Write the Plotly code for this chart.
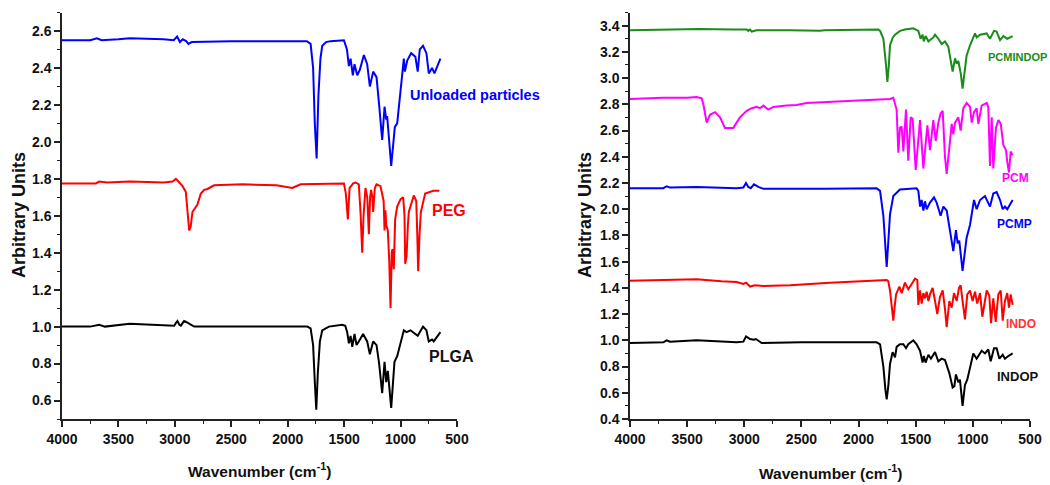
import plotly.graph_objects as go

# ---------------- Left panel data ----------------
unloaded_wn = [4000, 3750, 3690, 3650, 3500, 3400, 3100, 3010, 2980, 2955,
               2930, 2900, 2880, 2850, 2500, 2000, 1830, 1797, 1775, 1760,
               1744, 1728, 1710, 1694, 1660, 1620, 1502, 1475, 1458, 1443,
               1423, 1408, 1384, 1361, 1325, 1296, 1272, 1243, 1213, 1190,
               1163, 1142, 1127, 1119, 1083, 1051, 1030, 971, 962, 941,
               906, 869, 848, 830, 801, 771, 750, 721, 700, 647]
unloaded_val = [2.55, 2.55, 2.56, 2.55, 2.555, 2.56, 2.555, 2.55, 2.57, 2.54,
                2.555, 2.545, 2.53, 2.54, 2.545, 2.545, 2.545, 2.53, 2.40, 2.10,
                1.91, 2.25, 2.45, 2.52, 2.54, 2.545, 2.55, 2.50, 2.41, 2.45,
                2.36, 2.42, 2.36, 2.39, 2.47, 2.42, 2.30, 2.38, 2.35, 2.20,
                2.01, 2.19, 2.12, 2.14, 1.87, 2.08, 2.10, 2.45, 2.38, 2.44,
                2.48, 2.46, 2.38, 2.50, 2.52, 2.48, 2.37, 2.40, 2.37, 2.45]

peg_wn = [4000, 3700, 3670, 3600, 3400, 3100, 3020, 2991, 2960, 2932,
          2903, 2885, 2873, 2860, 2844, 2800, 2770, 2740, 2711, 2652,
          2400, 2100, 1959, 1886, 1600, 1502, 1485, 1467, 1452, 1420,
          1399, 1370, 1355, 1340, 1328, 1311, 1295, 1281, 1270, 1261,
          1250, 1243, 1228, 1213, 1178, 1160, 1150, 1142, 1134, 1127,
          1113, 1100, 1089, 1078, 1071, 1060, 1048, 1030, 1000, 977,
          965, 959, 947, 935, 927, 883, 861, 852, 844, 832,
          820, 782, 709, 656]
peg_val = [1.775, 1.775, 1.785, 1.78, 1.785, 1.78, 1.785, 1.80, 1.78, 1.76,
           1.73, 1.60, 1.52, 1.54, 1.62, 1.66, 1.72, 1.74, 1.745, 1.765,
           1.77, 1.765, 1.75, 1.77, 1.775, 1.775, 1.72, 1.58, 1.75, 1.775,
           1.78, 1.77, 1.62, 1.40, 1.60, 1.75, 1.70, 1.50, 1.70, 1.74,
           1.70, 1.62, 1.75, 1.77, 1.76, 1.70, 1.68, 1.52, 1.63, 1.55,
           1.52, 1.35, 1.10, 1.40, 1.42, 1.31, 1.58, 1.65, 1.69, 1.70,
           1.60, 1.34, 1.38, 1.55, 1.62, 1.71, 1.68, 1.50, 1.30, 1.50,
           1.62, 1.72, 1.735, 1.735]

plga_wn = [4000, 3750, 3670, 3620, 3400, 3100, 3006, 2990, 2977, 2960,
           2947, 2930, 2918, 2900, 2888, 2829, 2500, 2000, 1827, 1797,
           1775, 1760, 1747, 1733, 1715, 1694, 1635, 1517, 1490, 1473,
           1458, 1443, 1428, 1408, 1390, 1370, 1332, 1296, 1272, 1243,
           1213, 1190, 1163, 1142, 1127, 1113, 1083, 1054, 1030, 971,
           947, 912, 869, 848, 801, 771, 750, 721, 706, 647]
plga_val = [1.0, 1.0, 1.01, 1.0, 1.015, 1.005, 1.005, 1.02, 1.03, 1.01,
            1.005, 1.02, 1.03, 1.025, 1.02, 1.0, 1.0, 1.0, 1.0, 0.99,
            0.90, 0.70, 0.55, 0.75, 0.92, 0.98, 1.0, 1.01, 1.005, 0.97,
            0.91, 0.95, 0.89, 0.96, 0.90, 0.92, 0.96, 0.92, 0.85, 0.92,
            0.90, 0.80, 0.64, 0.81, 0.70, 0.76, 0.56, 0.81, 0.84, 0.98,
            0.97, 0.98, 0.96, 0.95, 1.0, 0.98, 0.92, 0.93, 0.92, 0.97]

# ---------------- Right panel data ----------------
pcmindop_wn = [4000, 3700, 3400, 3100, 2990, 2979, 2965, 2950, 2935, 2892,
               2600, 2337, 2300, 1900, 1827, 1812, 1783, 1760, 1748, 1735,
               1725, 1700, 1681, 1637, 1594, 1521, 1477, 1457, 1440, 1429,
               1414, 1389, 1346, 1331, 1302, 1273, 1244, 1215, 1177, 1156,
               1142, 1127, 1105, 1090, 1075, 1055, 1025, 981, 967, 937,
               879, 850, 815, 792, 762, 733, 699, 652]
pcmindop_val = [3.365, 3.37, 3.375, 3.37, 3.37, 3.37, 3.36, 3.37, 3.355, 3.365,
                3.365, 3.36, 3.365, 3.37, 3.37, 3.36, 3.30, 3.10, 2.97, 3.10,
                3.25, 3.31, 3.33, 3.36, 3.37, 3.38, 3.36, 3.30, 3.33, 3.28,
                3.32, 3.28, 3.31, 3.33, 3.30, 3.26, 3.28, 3.24, 3.05, 3.15,
                3.11, 3.13, 3.03, 2.92, 3.05, 3.17, 3.25, 3.34, 3.31, 3.33,
                3.34, 3.30, 3.36, 3.355, 3.29, 3.32, 3.30, 3.32]

pcm_wn = [4000, 3708, 3500, 3417, 3373, 3358, 3329, 3300, 3256, 3212,
          3169, 3125, 3096, 3038, 2979, 2935, 2892, 2863, 2833, 2790,
          2746, 2629, 2542, 2454, 2250, 1958, 1725, 1696, 1667, 1652,
          1638, 1623, 1608, 1585, 1565, 1544, 1527, 1500, 1462, 1433,
          1398, 1375, 1346, 1325, 1302, 1282, 1264, 1244, 1229, 1206,
          1185, 1171, 1156, 1127, 1107, 1083, 1054, 1025, 1010, 990,
          967, 952, 923, 879, 865, 850, 835, 821, 798, 777,
          756, 733, 710, 699, 684, 669, 652]
pcm_val = [2.84, 2.85, 2.85, 2.855, 2.845, 2.80, 2.66, 2.72, 2.74, 2.70,
           2.62, 2.62, 2.62, 2.70, 2.75, 2.77, 2.78, 2.77, 2.79, 2.76,
           2.78, 2.79, 2.795, 2.81, 2.82, 2.83, 2.84, 2.85, 2.76, 2.43,
           2.62, 2.63, 2.44, 2.76, 2.37, 2.70, 2.69, 2.30, 2.68, 2.31,
           2.64, 2.45, 2.68, 2.52, 2.66, 2.73, 2.75, 2.40, 2.27, 2.50,
           2.65, 2.57, 2.66, 2.70, 2.60, 2.77, 2.81, 2.78, 2.66, 2.74,
           2.77, 2.65, 2.79, 2.81, 2.78, 2.33, 2.70, 2.31, 2.62, 2.68,
           2.65, 2.49, 2.45, 2.36, 2.28, 2.44, 2.41]

pcmp_wn = [4000, 3708, 3679, 3650, 3417, 3067, 3008, 2985, 2965, 2944,
           2915, 2877, 2833, 2367, 2337, 2300, 1842, 1812, 1783, 1765,
           1754, 1740, 1725, 1696, 1638, 1492, 1477, 1462, 1448, 1433,
           1419, 1404, 1375, 1340, 1317, 1282, 1258, 1229, 1200, 1171,
           1148, 1133, 1119, 1090, 1055, 1025, 990, 967, 937, 894,
           850, 821, 792, 762, 739, 719, 699, 652]
pcmp_val = [2.16, 2.16, 2.175, 2.165, 2.17, 2.16, 2.165, 2.20, 2.17, 2.16,
            2.19, 2.17, 2.155, 2.155, 2.15, 2.155, 2.16, 2.14, 1.95, 1.70,
            1.56, 1.75, 1.96, 2.10, 2.15, 2.16, 2.14, 2.02, 2.07, 1.99,
            2.06, 2.00, 2.05, 2.09, 2.05, 1.95, 2.02, 1.99, 1.85, 1.68,
            1.84, 1.74, 1.76, 1.53, 1.78, 1.88, 2.07, 2.00, 2.07, 2.10,
            2.02, 2.12, 2.13, 2.07, 2.00, 2.02, 2.00, 2.07]

indo_wn = [4000, 3700, 3417, 3200, 3067, 3008, 2985, 2950, 2906, 2833,
           2600, 2250, 1900, 1754, 1740, 1725, 1710, 1696, 1685, 1672,
           1643, 1623, 1594, 1565, 1535, 1506, 1486, 1477, 1462, 1448,
           1433, 1419, 1404, 1389, 1375, 1352, 1331, 1311, 1288, 1264,
           1244, 1229, 1206, 1185, 1165, 1142, 1121, 1107, 1090, 1069,
           1049, 1025, 1002, 981, 962, 937, 917, 902, 879, 856,
           841, 821, 800, 777, 756, 739, 719, 699, 684, 669,
           652]
indo_val = [1.455, 1.46, 1.465, 1.45, 1.445, 1.43, 1.44, 1.41, 1.42, 1.415,
            1.42, 1.44, 1.455, 1.46, 1.45, 1.38, 1.26, 1.15, 1.25, 1.35,
            1.41, 1.36, 1.44, 1.39, 1.43, 1.47, 1.46, 1.27, 1.38, 1.28,
            1.36, 1.32, 1.37, 1.30, 1.35, 1.40, 1.30, 1.20, 1.33, 1.38,
            1.24, 1.10, 1.30, 1.25, 1.36, 1.30, 1.40, 1.42, 1.30, 1.16,
            1.35, 1.38, 1.30, 1.37, 1.28, 1.36, 1.18, 1.25, 1.38, 1.34,
            1.13, 1.32, 1.14, 1.35, 1.38, 1.15, 1.30, 1.36, 1.25, 1.35,
            1.27]

indop_wn = [4000, 3708, 3679, 3650, 3417, 3067, 3008, 2985, 2950, 2915,
            2898, 2848, 2500, 1842, 1812, 1783, 1765, 1754, 1740, 1725,
            1702, 1681, 1667, 1638, 1608, 1585, 1565, 1521, 1492, 1462,
            1440, 1429, 1414, 1389, 1367, 1331, 1302, 1273, 1244, 1206,
            1177, 1162, 1148, 1127, 1113, 1090, 1069, 1049, 1025, 996,
            967, 923, 894, 865, 844, 815, 792, 768, 739, 719,
            690, 652]
indop_val = [0.98, 0.985, 1.0, 0.99, 1.0, 0.985, 0.99, 1.03, 1.01, 1.005,
             1.01, 0.98, 0.985, 0.985, 0.97, 0.80, 0.62, 0.55, 0.65, 0.82,
             0.91, 0.87, 0.95, 0.97, 0.97, 0.94, 0.97, 1.0, 0.97, 0.92,
             0.83, 0.88, 0.83, 0.89, 0.86, 0.91, 0.84, 0.86, 0.85, 0.75,
             0.64, 0.65, 0.74, 0.68, 0.70, 0.50, 0.66, 0.70, 0.79, 0.90,
             0.86, 0.92, 0.90, 0.93, 0.84, 0.94, 0.94, 0.86, 0.89, 0.86,
             0.88, 0.90]

FONT = "Liberation Sans, Arial, sans-serif"

left_series = [
    ("Unloaded particles", unloaded_wn, unloaded_val, "#0000ff"),
    ("PEG", peg_wn, peg_val, "#ff0000"),
    ("PLGA", plga_wn, plga_val, "#000000"),
]
right_series = [
    ("PCMINDOP", pcmindop_wn, pcmindop_val, "#1a8c1a"),
    ("PCM", pcm_wn, pcm_val, "#ff00ff"),
    ("PCMP", pcmp_wn, pcmp_val, "#0000ff"),
    ("INDO", indo_wn, indo_val, "#ff0000"),
    ("INDOP", indop_wn, indop_val, "#000000"),
]

fig = go.Figure()
for name, wn, val, col in left_series:
    if len(wn) != len(val):
        raise ValueError(f"{name}: {len(wn)} vs {len(val)}")
    fig.add_trace(go.Scatter(x=wn, y=val, mode="lines", name=name,
                             line=dict(color=col, width=2),
                             xaxis="x", yaxis="y", showlegend=False))
for name, wn, val, col in right_series:
    if len(wn) != len(val):
        raise ValueError(f"{name}: {len(wn)} vs {len(val)}")
    fig.add_trace(go.Scatter(x=wn, y=val, mode="lines", name=name,
                             line=dict(color=col, width=2),
                             xaxis="x2", yaxis="y2", showlegend=False))

W, H = 1050, 485
ydom = [1 - 419 / H, 1 - 12.5 / H]

def xax(domain, anchor):
    return dict(domain=domain, anchor=anchor, range=[4000, 500], automargin=False,
                tick0=500, dtick=500, showgrid=False, zeroline=False,
                showline=True, linecolor="#222", linewidth=1.5,
                ticks="outside", ticklen=6, tickwidth=1.5, tickcolor="#222",
                minor=dict(ticks="outside", ticklen=3, dtick=250, tickwidth=1, tickcolor="#222"),
                tickfont=dict(family=FONT, size=14, color="#111", weight="bold"))

def yax(rng, t0, anchor):
    return dict(domain=ydom, anchor=anchor, range=rng, tick0=t0, dtick=0.2, automargin=False,
                tickformat=".1f", showgrid=False, zeroline=False,
                showline=True, linecolor="#222", linewidth=1.5,
                ticks="outside", ticklen=6, tickwidth=1.5, tickcolor="#222",
                minor=dict(ticks="outside", ticklen=3, dtick=0.1, tickwidth=1, tickcolor="#222"),
                tickfont=dict(family=FONT, size=14, color="#111", weight="bold"))

fig.update_layout(
    width=W, height=H,
    margin=dict(l=0, r=0, t=0, b=0, autoexpand=False),
    paper_bgcolor="white", plot_bgcolor="white",
    xaxis=xax([62 / W, 457 / W], "y"),
    yaxis=yax([0.5, 2.7], 0.6, "x"),
    xaxis2=xax([630 / W, 1030 / W], "y2"),
    yaxis2=yax([0.4, 3.5], 0.4, "x2"),
)

annotations = [
    # axis titles
    dict(text="Arbitrary Units", x=19 / W, y=1 - 215 / H, textangle=-90,
         font=dict(size=18, color="#111", weight="bold")),
    dict(text="Arbitrary Units", x=585 / W, y=1 - 215 / H, textangle=-90,
         font=dict(size=18, color="#111", weight="bold")),
    dict(text="Wavenumber (cm<sup>-1</sup>)", x=259 / W, y=1 - 470 / H,
         font=dict(size=15.5, color="#111", weight="bold")),
    dict(text="Wavenumber (cm<sup>-1</sup>)", x=830 / W, y=1 - 472 / H,
         font=dict(size=15.5, color="#111", weight="bold")),
    # curve labels
    dict(text="Unloaded particles", x=408 / W, y=1 - 95 / H, xanchor="left",
         font=dict(size=14.5, color="#0000ff", weight="bold")),
    dict(text="PEG", x=430 / W, y=1 - 210 / H, xanchor="left",
         font=dict(size=16, color="#ff0000", weight="bold")),
    dict(text="PLGA", x=427 / W, y=1 - 356 / H, xanchor="left",
         font=dict(size=16, color="#111", weight="bold")),
    dict(text="PCMINDOP", x=1049 / W, y=1 - 57 / H, xanchor="right",
         font=dict(size=11, color="#1a8c1a", weight="bold")),
    dict(text="PCM", x=1000 / W, y=1 - 178 / H, xanchor="left",
         font=dict(size=12, color="#ff00ff", weight="bold")),
    dict(text="PCMP", x=995 / W, y=1 - 224 / H, xanchor="left",
         font=dict(size=12, color="#0000ff", weight="bold")),
    dict(text="INDO", x=1004 / W, y=1 - 324 / H, xanchor="left",
         font=dict(size=12, color="#ff3333", weight="bold")),
    dict(text="INDOP", x=995 / W, y=1 - 376 / H, xanchor="left",
         font=dict(size=13, color="#111", weight="bold")),
]
for a in annotations:
    a.setdefault("xanchor", "center")
    a.update(xref="paper", yref="paper", yanchor="middle", showarrow=False)
    a["font"]["family"] = FONT
fig.update_layout(annotations=annotations)

fig.write_html("out.html", config={"displayModeBar": False},
               post_script="document.body.style.margin='0';document.body.style.padding='0';")
